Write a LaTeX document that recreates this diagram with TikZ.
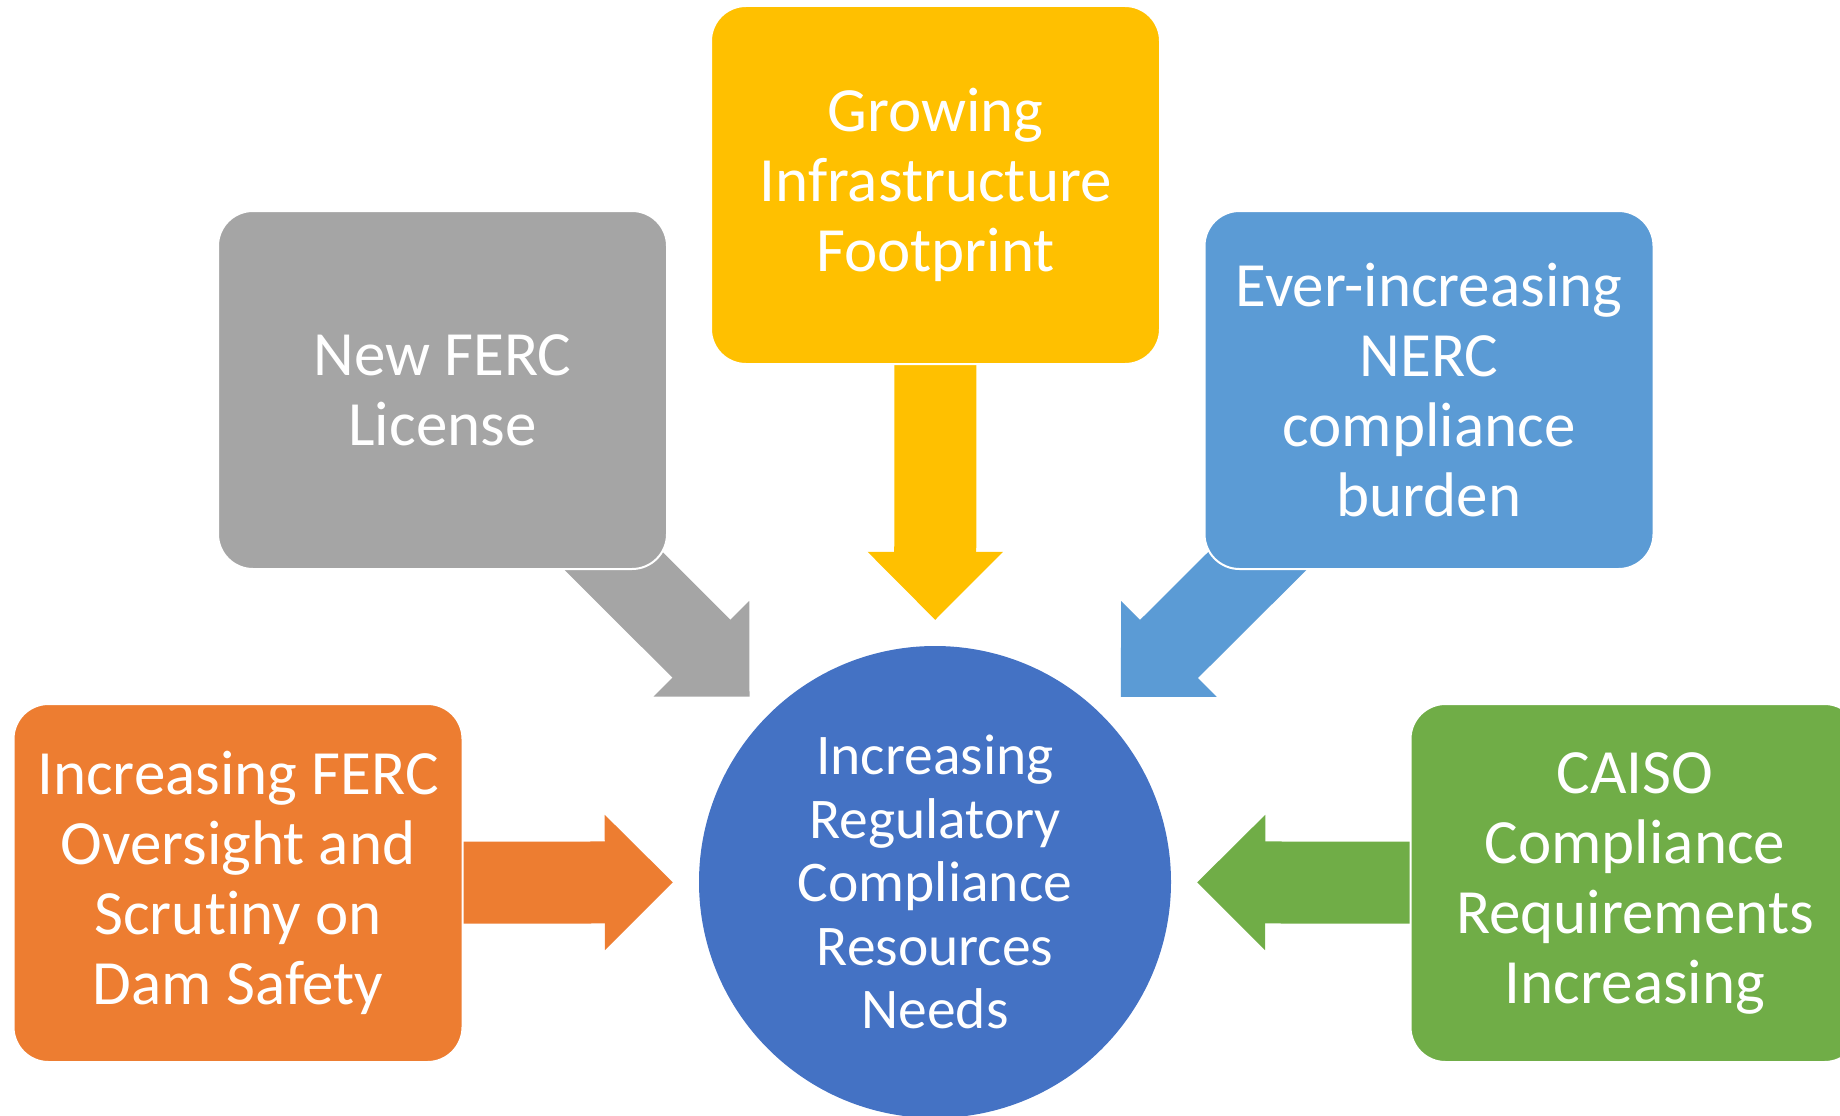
\documentclass[tikz,border=0pt]{standalone}
\usepackage{fontspec}
\setmainfont{Carlito}[Ligatures=NoCommon]
\usepackage{tikz}
\usetikzlibrary{arrows.meta}
\usetikzlibrary{backgrounds}

\definecolor{fercgray}{HTML}{A5A5A5}
\definecolor{infragold}{HTML}{FFC000}
\definecolor{nercblue}{HTML}{5B9BD5}
\definecolor{damorange}{HTML}{ED7D31}
\definecolor{caisogreen}{HTML}{70AD47}
\definecolor{hubblue}{HTML}{4472C4}

\begin{document}
\begin{tikzpicture}[x=1pt, y=-1pt]
	\tikzset{box/.style={rectangle, rounded corners=35pt, draw=white, line width=2pt,
			text=white, minimum width=449pt, minimum height=358pt, inner sep=0pt,
			align=center, font=\fontsize{63pt}{70pt}\selectfont}}
	\tikzset{hubnode/.style={circle, fill=hubblue, minimum size=472pt, inner sep=0pt,
			text=white, align=center, font=\fontsize{57.5pt}{63.5pt}\selectfont}}
	\tikzset{push/.style={line width=82pt,
			-{Triangle[length=68pt, width=135pt, line width=2pt]},
			shorten >=26pt}}
	\useasboundingbox (0,0) rectangle (1840,1116);
	%boxes
	\node[box, fill=infragold] (infra) at (935.5, 185) {Growing\\Infrastructure\\Footprint};
	\node[box, fill=fercgray] (ferc) at (442.5, 390) {New FERC\\License};
	\node[box, fill=nercblue] (nerc) at (1429, 390) {Ever-increasing\\NERC\\compliance\\burden};
	\node[box, fill=damorange] (dam) at (238, 883) {Increasing FERC\\Oversight and\\Scrutiny on\\Dam Safety};
	\node[box, fill=caisogreen] (caiso) at (1635, 883) {CAISO\\Compliance\\Requirements\\Increasing};
	\node[hubnode] (hub) at (935, 882) {Increasing\\Regulatory\\Compliance\\Resources\\Needs};
	%arrows
	\begin{pgfonlayer}{background}
		\draw[push, infragold] (infra.center) -- (hub);
		\draw[push, fercgray] (ferc.center) -- (hub);
		\draw[push, nercblue] (nerc.center) -- (hub);
		\draw[push, damorange] (dam.center) -- (hub);
		\draw[push, caisogreen] (caiso.center) -- (hub);
	\end{pgfonlayer}
\end{tikzpicture}
\end{document}
